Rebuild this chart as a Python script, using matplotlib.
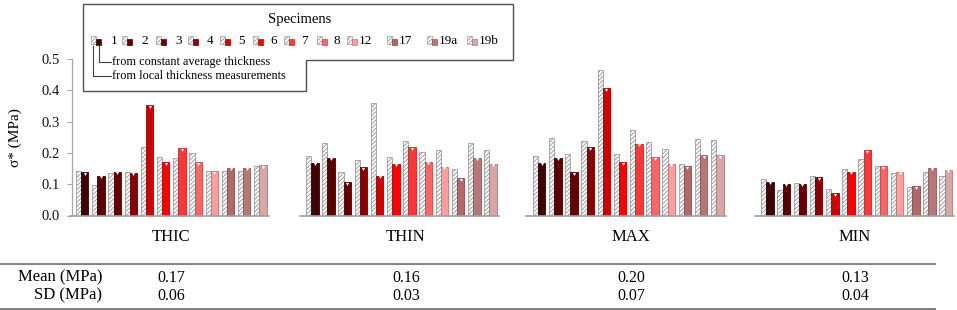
import matplotlib
matplotlib.use("Agg")
import matplotlib.pyplot as plt
from matplotlib.patches import Rectangle, Polygon
import matplotlib.colors as mcolors
import numpy as np

plt.rcParams['font.family'] = ['Liberation Serif', 'DejaVu Serif']
plt.rcParams['hatch.linewidth'] = 0.7

groups = ['THIC', 'THIN', 'MAX', 'MIN']
specimens = ['1', '2', '3', '4', '5', '6', '7', '8', '12', '17', '19a', '19b']
colors = ['#420303', '#5c0000', '#690000', '#8b0000', '#d40000', '#ff0000',
          '#ff3636', '#ff6464', '#ff9c9c', '#b36767', '#b87676', '#d9a6a6']

# hatched bars: from local thickness measurements
local = {
    'THIC': [0.142, 0.096, 0.137, 0.138, 0.220, 0.187, 0.185, 0.201, 0.143, 0.142, 0.142, 0.158],
    'THIN': [0.189, 0.232, 0.138, 0.177, 0.361, 0.187, 0.238, 0.204, 0.210, 0.147, 0.232, 0.210],
    'MAX':  [0.189, 0.247, 0.197, 0.239, 0.464, 0.196, 0.273, 0.234, 0.212, 0.165, 0.245, 0.240],
    'MIN':  [0.116, 0.081, 0.105, 0.125, 0.085, 0.148, 0.182, 0.158, 0.135, 0.092, 0.140, 0.127],
}
# solid bars: from constant average thickness
const = {
    'THIC': [0.139, 0.127, 0.140, 0.137, 0.352, 0.170, 0.215, 0.171, 0.141, 0.153, 0.153, 0.161],
    'THIN': [0.168, 0.184, 0.107, 0.155, 0.127, 0.165, 0.218, 0.172, 0.156, 0.119, 0.184, 0.166],
    'MAX':  [0.168, 0.185, 0.138, 0.219, 0.407, 0.171, 0.229, 0.187, 0.165, 0.157, 0.192, 0.192],
    'MIN':  [0.108, 0.101, 0.101, 0.123, 0.072, 0.140, 0.209, 0.158, 0.140, 0.094, 0.153, 0.146],
}
mean_vals = ['0.17', '0.16', '0.20', '0.13']
sd_vals = ['0.06', '0.03', '0.07', '0.04']

W, H = 957, 310
fig = plt.figure(figsize=(W / 100, H / 100), dpi=100)

# main axes (pixel layout of the reference)
ax_l, ax_r, ax_b, ax_t = 72, 957, 215.5, 59
ax = fig.add_axes([ax_l / W, (H - ax_b) / H, (ax_r - ax_l) / W, (ax_b - ax_t) / H])
unit = 16.2
x0 = -(76 - 72) / unit
ax.set_xlim(x0, x0 + (ax_r - ax_l) / unit)
ax.set_ylim(0, 0.5)
group_start = [0, 14.2, 28.2, 42.3]
hw, sw = 0.32, 0.45

def darker(c, f=0.75):
    r, g, b = mcolors.to_rgb(c)
    return (r * f, g * f, b * f)

for gi, g in enumerate(groups):
    xs = group_start[gi] + np.arange(len(specimens))
    ax.bar(xs, local[g], width=hw, align='edge', color='white',
           edgecolor='#9c9c9c', hatch='////////', linewidth=0.6, zorder=2)
    ax.bar(xs + hw, const[g], width=sw, align='edge', color=colors,
           edgecolor=[darker(c) for c in colors], linewidth=0.6, zorder=3)
    ax.scatter(xs + hw + sw / 2, np.array(const[g]) - 0.005, marker='v', s=5,
               color='white', linewidths=0, zorder=4)
    ax.plot([group_start[gi] - 0.4, group_start[gi] + 11.9], [0, 0],
            color='#a0a0a0', lw=1.2, zorder=5, clip_on=False)

for s in ['top', 'right', 'bottom']:
    ax.spines[s].set_visible(False)
ax.spines['left'].set_color('#a6a6a6')
ax.spines['left'].set_linewidth(0.9)
ax.set_xticks([])
ax.set_yticks(np.arange(0, 0.51, 0.1))
ax.set_yticklabels([f'{v:.1f}' for v in np.arange(0, 0.51, 0.1)])
ax.tick_params(axis='y', length=3.5, width=0.8, color='#a6a6a6', pad=5.5,
               labelsize=10.5, labelcolor='#111111')
ax.set_ylabel('σ* (MPa)', fontsize=11)
ax.yaxis.set_label_coords((22 - ax_l) / (ax_r - ax_l), 0.5)

# overlay in pixel coordinates for legend and table
ov = fig.add_axes([0, 0, 1, 1], zorder=10)
ov.set_xlim(0, W)
ov.set_ylim(H, 0)
ov.axis('off')
ov.patch.set_alpha(0)

box = Polygon([(83, 4), (513, 4), (513, 60), (306, 60), (306, 91), (83, 91)],
              closed=True, facecolor='white', edgecolor='#505050', lw=1.0)
ov.add_patch(box)
ov.text(300, 19, 'Specimens', ha='center', va='center', fontsize=10.5)

icon_x = [91, 121.5, 156, 188, 220, 253, 284, 316.5, 347, 386.5, 426.5, 466.5]
label_x = [110.5, 141, 175.5, 206.5, 238, 270, 301, 334, 359, 399, 438.5, 479]
for ix, lx, c, lab in zip(icon_x, label_x, colors, specimens):
    ov.add_patch(Rectangle((ix, 36), 5, 8, facecolor='white', edgecolor='#9c9c9c',
                           hatch='////////', lw=0.5))
    ov.add_patch(Rectangle((ix + 5, 39), 5, 5.5, facecolor=c, edgecolor=darker(c), lw=0.5))
    ov.text(lx, 41, lab, ha='left', va='center', fontsize=9.5)

ov.plot([92.5, 92.5, 111], [46, 76, 76], color='#404040', lw=0.8)
ov.plot([98.5, 98.5, 111], [46, 61.5, 61.5], color='#404040', lw=0.8)
ov.text(112, 61.5, 'from constant average thickness', ha='left', va='center', fontsize=8.8)
ov.text(112, 76, 'from local thickness measurements', ha='left', va='center', fontsize=8.8)

# table below the chart
col_x = [171, 406, 631, 855]
for cx, g, m, sd in zip(col_x, groups, mean_vals, sd_vals):
    ov.text(cx, 237, g, ha='center', va='center', fontsize=12)
    ov.text(cx, 277.5, m, ha='center', va='center', fontsize=11.5)
    ov.text(cx, 295.5, sd, ha='center', va='center', fontsize=11.5)
ov.text(102, 277.5, 'Mean (MPa)', ha='right', va='center', fontsize=12)
ov.text(102, 295.5, 'SD (MPa)', ha='right', va='center', fontsize=12)
ov.plot([0, 935], [264, 264], color='#808080', lw=1.4)
ov.plot([0, 935], [308.5, 308.5], color='#808080', lw=1.4)

fig.savefig('out.png', dpi=100)
